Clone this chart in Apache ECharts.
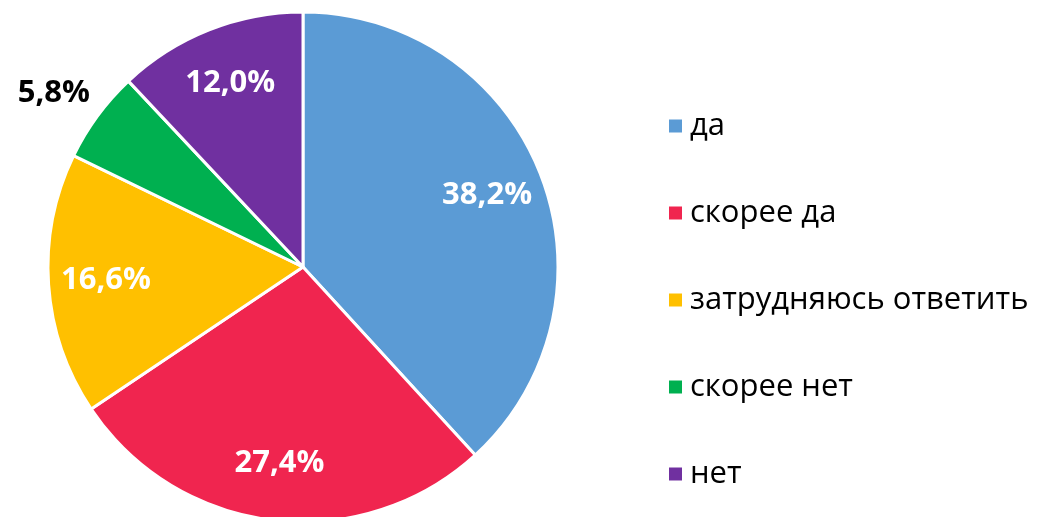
<!DOCTYPE html>
<html><head><meta charset="utf-8">
<script src="https://cdn.jsdelivr.net/npm/echarts@6/dist/echarts.min.js"></script>
<style>html,body{margin:0;padding:0;background:#fff}#c{width:1048px;height:517px}</style>
</head><body><div id="c"></div>
<script>
const categories = ['да', 'скорее да', 'затрудняюсь ответить', 'скорее нет', 'нет'];
const values = [38.2, 27.4, 16.6, 5.8, 12.0];
const colors = ['#5B9BD5', '#F0254F', '#FFC000', '#00B050', '#7030A0'];
const outsideLabels = ['скорее нет'];

const FONT = 'Open Sans';
const chart = echarts.init(document.getElementById('c'));
const fmt = p => p.value.toFixed(1).replace('.', ',') + '%';
chart.setOption({
  animation: false,
  legend: {
    orient: 'vertical', left: 662, top: 105,
    itemWidth: 15, itemHeight: 15, itemGap: 55, icon: 'rect',
    textStyle: { fontFamily: FONT, fontSize: 31, color: '#000', lineHeight: 32, padding: [0,0,0,2] },
    data: categories.map((n, i) => ({ name: n, itemStyle: { color: colors[i] } }))
  },
  series: [{
    type: 'pie', center: [303, 267], radius: [0, 255], startAngle: 90, clockwise: true,
    silent: true,
    itemStyle: { borderColor: '#fff', borderWidth: 3 },
    label: { show: false }, labelLine: { show: false },
    data: categories.map((n, i) => ({ name: n, value: values[i], itemStyle: { color: colors[i] } }))
  }, {
    type: 'pie', center: [303, 267], radius: [134, 255], startAngle: 90, clockwise: true,
    silent: true, legendHoverLink: false,
    itemStyle: { color: 'rgba(0,0,0,0)', borderWidth: 0 },
    label: { show: true, position: 'inside', formatter: fmt, fontFamily: FONT, fontWeight: 'bold', fontSize: 31, color: '#fff', overflow: 'none' },
    labelLine: { show: false },
    data: categories.map((n, i) => {
      const d = { name: n, value: values[i] };
      if (outsideLabels.includes(n)) {
        d.label = { position: 'outside', color: '#000', distanceToLabelLine: 0, offset: [10, -10], overflow: 'none', edgeDistance: 0 };
        d.labelLine = { show: false, length: 22, length2: 0 };
      }
      return d;
    })
  }]
});
</script></body></html>
